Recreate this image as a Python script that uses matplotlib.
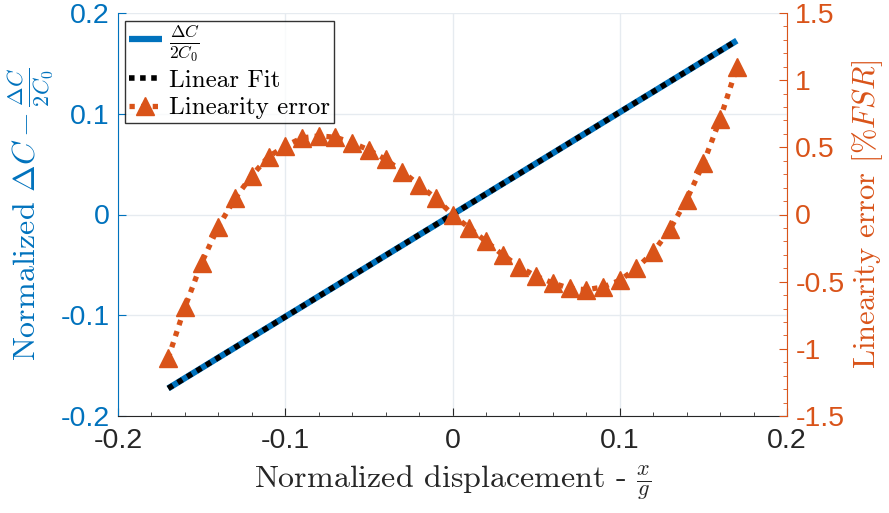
import numpy as np
import matplotlib
matplotlib.use("Agg")
import matplotlib.pyplot as plt
from matplotlib.ticker import MultipleLocator, FormatStrFormatter

# Données
x_disp = [-0.17, -0.16, -0.15, -0.14, -0.13, -0.12, -0.11, -0.10, -0.09,
          -0.08, -0.07, -0.06, -0.05, -0.04, -0.03, -0.02, -0.01, 0.0,
          0.01, 0.02, 0.03, 0.04, 0.05, 0.06, 0.07, 0.08, 0.09,
          0.10, 0.11, 0.12, 0.13, 0.14, 0.15, 0.16, 0.17]
dC_norm = [-0.1726, -0.1624, -0.1523, -0.1421, -0.1320, -0.1218, -0.1117,
           -0.1015, -0.0914, -0.0812, -0.0711, -0.0609, -0.0508, -0.0406,
           -0.0305, -0.0203, -0.0102, 0.0,
           0.0102, 0.0203, 0.0305, 0.0406, 0.0508, 0.0609, 0.0711, 0.0812,
           0.0914, 0.1015, 0.1117, 0.1218, 0.1320, 0.1421, 0.1523, 0.1624,
           0.1726]
fit_x = [-0.17, 0.17]
fit_y = [-0.1726, 0.1726]
lin_err = [-1.07, -0.69, -0.36, -0.09, 0.12, 0.29, 0.43, 0.51, 0.57,
           0.585, 0.575, 0.535, 0.48, 0.41, 0.32, 0.22, 0.12, 0.0,
           -0.10, -0.20, -0.30, -0.39, -0.46, -0.51, -0.55, -0.56, -0.54,
           -0.49, -0.40, -0.28, -0.11, 0.11, 0.38, 0.71, 1.096]

blue = '#0072BD'
orange = '#D95319'
grey = '#262626'

plt.rcParams['font.family'] = 'Liberation Sans'
plt.rcParams['mathtext.fontset'] = 'cm'
plt.rcParams['axes.unicode_minus'] = False

fig = plt.figure(figsize=(8.89, 5.13), dpi=100)
ax = fig.add_axes([118/889, 97/513, 669/889, 403/513])
ax2 = ax.twinx()

ax.plot(x_disp, dC_norm, color=blue, lw=4.5, solid_capstyle='butt',
        label=r'$\frac{\Delta C}{2C_0}$', zorder=3)
ax.plot(fit_x, fit_y, color='black', lw=4, dashes=(1, 1),
        dash_capstyle='butt', label='Linear Fit', zorder=4)
ax2.plot(x_disp, lin_err, color=orange, lw=3.8, dashes=(1, 1.2),
         dash_capstyle='butt', marker='^', ms=12.5, mec=orange, mfc=orange,
         label='Linearity error')

ax.set_xlim(-0.2, 0.2)
ax.set_ylim(-0.2, 0.2)
ax2.set_ylim(-1.5, 1.5)

ax.xaxis.set_major_locator(MultipleLocator(0.1))
ax.xaxis.set_minor_locator(MultipleLocator(0.02))
ax.yaxis.set_major_locator(MultipleLocator(0.1))
ax2.yaxis.set_major_locator(MultipleLocator(0.5))
ax2.yaxis.set_minor_locator(MultipleLocator(0.1))
for a in (ax.xaxis, ax.yaxis, ax2.yaxis):
    a.set_major_formatter(FormatStrFormatter('%g'))

ax.grid(True, which='major', color='#e6ebf0', lw=1)
ax.set_axisbelow(True)

ax.tick_params(axis='x', which='both', direction='in', colors=grey,
               labelsize=20.5, pad=9)
ax.tick_params(axis='x', which='major', length=6)
ax.tick_params(axis='x', which='minor', length=3)
ax.tick_params(axis='y', direction='in', colors=blue, labelsize=20.5,
               length=6, pad=6)
ax2.tick_params(axis='y', which='both', direction='in', colors=orange,
                labelsize=20.5, pad=6)
ax2.tick_params(axis='y', which='major', length=6)
ax2.tick_params(axis='y', which='minor', length=3)

for a in (ax, ax2):
    a.spines['top'].set_visible(False)
ax.spines['bottom'].set_color(grey)
ax2.spines['bottom'].set_visible(False)
ax2.spines['left'].set_visible(False)
ax.spines['right'].set_visible(False)
ax.spines['left'].set_color(blue)
ax2.spines['right'].set_color(orange)

ax.set_xlabel(r'Normalized displacement - $\frac{x}{g}$', family='cmr10',
              fontsize=23, color=grey, labelpad=7)
ax.set_ylabel(r'Normalized $\Delta C - \frac{\Delta C}{2C_0}$',
              family='cmr10', fontsize=23, color=blue, labelpad=3)
ax2.set_ylabel(r'Linearity error $[\% FSR]$', family='cmr10',
               fontsize=22, color=orange, labelpad=4)

h1, l1 = ax.get_legend_handles_labels()
h2, l2 = ax2.get_legend_handles_labels()
leg = ax2.legend(h1 + h2, l1 + l2, loc='upper left',
                 prop={'family': 'cmr10', 'size': 18},
                 frameon=True, fancybox=False, edgecolor='black',
                 borderaxespad=0.3, handlelength=1.3, handletextpad=0.3,
                 labelspacing=0.2, borderpad=0.15)
leg.get_frame().set_linewidth(1)

fig.savefig('out.png', dpi=100)
